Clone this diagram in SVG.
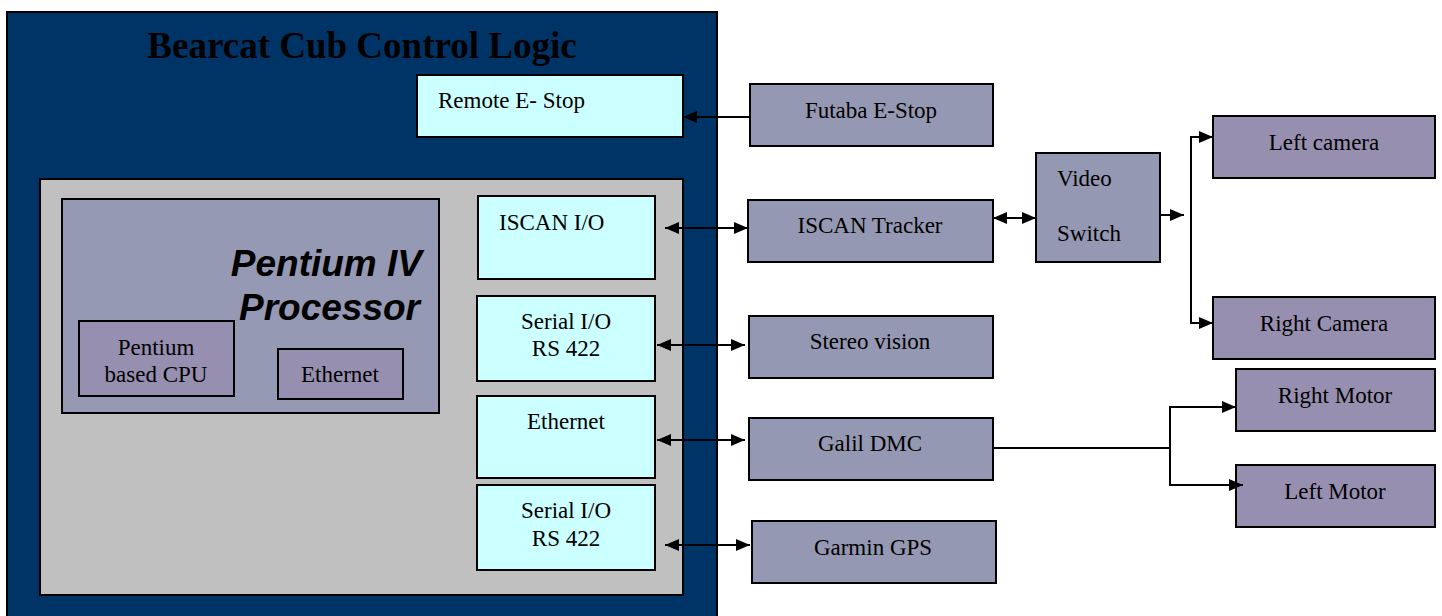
<svg xmlns="http://www.w3.org/2000/svg" width="1442" height="616" viewBox="0 0 1442 616">
<style>
.t{font-family:"Liberation Serif","Times New Roman",serif;font-size:23px;fill:#000}
.c{text-anchor:middle}
.io{fill:#ccffff;stroke:#000;stroke-width:2}
.ext{fill:#9598b2;stroke:#000;stroke-width:2}
.pur{fill:#978fb0;stroke:#000;stroke-width:2}
.ln{fill:none;stroke:#000;stroke-width:2}
.big{font-family:"Liberation Sans",Arial,sans-serif;font-size:37px;font-weight:bold;font-style:italic;text-anchor:end}
</style>
<defs>
<marker id="ah" viewBox="0 0 14 12" refX="14" refY="6" markerWidth="14" markerHeight="12" markerUnits="userSpaceOnUse" orient="auto-start-reverse">
<path d="M0,0 L14,6 L0,12 Z" fill="#000"/>
</marker>
</defs>
<g id="control-logic">
<rect x="7" y="12" width="710" height="610" fill="#003366" stroke="#000" stroke-width="2"/>
<text x="362" y="58" class="t c" style="font-size:37px;font-weight:bold">Bearcat Cub Control Logic</text>
</g>
<g id="remote-estop">
<rect class="io" x="417" y="75" width="266" height="62"/>
<text x="438" y="108" class="t">Remote E- Stop</text>
</g>
<g id="computer">
<rect x="40" y="179" width="643" height="416" fill="#c0c0c0" stroke="#000" stroke-width="2"/>
</g>
<g id="pentium">
<rect x="62" y="199" width="377" height="214" fill="#9599b3" stroke="#000" stroke-width="2"/>
<text x="422" y="276" class="big">Pentium IV</text>
<text x="420" y="320" class="big">Processor</text>
</g>
<g id="cpu">
<rect class="pur" x="79" y="321" width="155" height="75"/>
<text x="156" y="355" class="t c">Pentium</text>
<text x="156" y="382" class="t c">based CPU</text>
</g>
<g id="ethernet-int">
<rect class="pur" x="278" y="349" width="125" height="50"/>
<text x="340" y="382" class="t c">Ethernet</text>
</g>
<g id="iscan-io">
<rect class="io" x="478" y="196" width="177" height="83"/>
<text x="499" y="230" class="t">ISCAN I/O</text>
</g>
<g id="serial1">
<rect class="io" x="477" y="296" width="178" height="85"/>
<text x="566" y="329" class="t c">Serial I/O</text>
<text x="566" y="356" class="t c">RS 422</text>
</g>
<g id="ethernet-io">
<rect class="io" x="477" y="396" width="178" height="82"/>
<text x="566" y="429" class="t c">Ethernet</text>
</g>
<g id="serial2">
<rect class="io" x="477" y="485" width="178" height="85"/>
<text x="566" y="518" class="t c">Serial I/O</text>
<text x="566" y="546" class="t c">RS 422</text>
</g>
<g id="futaba">
<rect class="ext" x="750" y="84" width="243" height="62"/>
<text x="871" y="118" class="t c">Futaba E-Stop</text>
</g>
<g id="iscan-tracker">
<rect class="ext" x="748" y="200" width="245" height="62"/>
<text x="870" y="233" class="t c">ISCAN Tracker</text>
</g>
<g id="video-switch">
<rect class="ext" x="1036" y="153" width="124" height="109"/>
<text x="1057" y="186" class="t">Video</text>
<text x="1057" y="241" class="t">Switch</text>
</g>
<g id="left-camera">
<rect class="pur" x="1213" y="116" width="222" height="62"/>
<text x="1324" y="150" class="t c">Left camera</text>
</g>
<g id="right-camera">
<rect class="pur" x="1213" y="297" width="222" height="62"/>
<text x="1324" y="331" class="t c">Right Camera</text>
</g>
<g id="stereo">
<rect class="ext" x="749" y="316" width="244" height="62"/>
<text x="870" y="349" class="t c">Stereo vision</text>
</g>
<g id="galil">
<rect class="ext" x="749" y="418" width="244" height="62"/>
<text x="870" y="451" class="t c">Galil DMC</text>
</g>
<g id="garmin">
<rect class="ext" x="752" y="521" width="244" height="62"/>
<text x="873" y="555" class="t c">Garmin GPS</text>
</g>
<g id="right-motor">
<rect class="pur" x="1236" y="369" width="199" height="62"/>
<text x="1335" y="403" class="t c">Right Motor</text>
</g>
<g id="left-motor">
<rect class="pur" x="1236" y="465" width="199" height="62"/>
<text x="1335" y="499" class="t c">Left Motor</text>
</g>
<g id="connectors">
<line class="ln" x1="750" y1="117" x2="683" y2="117" marker-end="url(#ah)"/>
<line class="ln" x1="665" y1="228" x2="748" y2="228" marker-start="url(#ah)" marker-end="url(#ah)"/>
<line class="ln" x1="993" y1="218" x2="1036" y2="218" marker-start="url(#ah)" marker-end="url(#ah)"/>
<line class="ln" x1="1160" y1="215" x2="1184" y2="215" marker-end="url(#ah)"/>
<path class="ln" d="M1213,137 H1191 V323 H1213" marker-start="url(#ah)" marker-end="url(#ah)"/>
<line class="ln" x1="657" y1="345" x2="745" y2="345" marker-start="url(#ah)" marker-end="url(#ah)"/>
<line class="ln" x1="657" y1="440" x2="745" y2="440" marker-start="url(#ah)" marker-end="url(#ah)"/>
<line class="ln" x1="665" y1="545" x2="750" y2="545" marker-start="url(#ah)" marker-end="url(#ah)"/>
<line class="ln" x1="993" y1="448" x2="1170" y2="448"/>
<path class="ln" d="M1170,448 V407 H1236" marker-end="url(#ah)"/>
<path class="ln" d="M1170,448 V485 H1243" marker-end="url(#ah)"/>
</g>
</svg>
